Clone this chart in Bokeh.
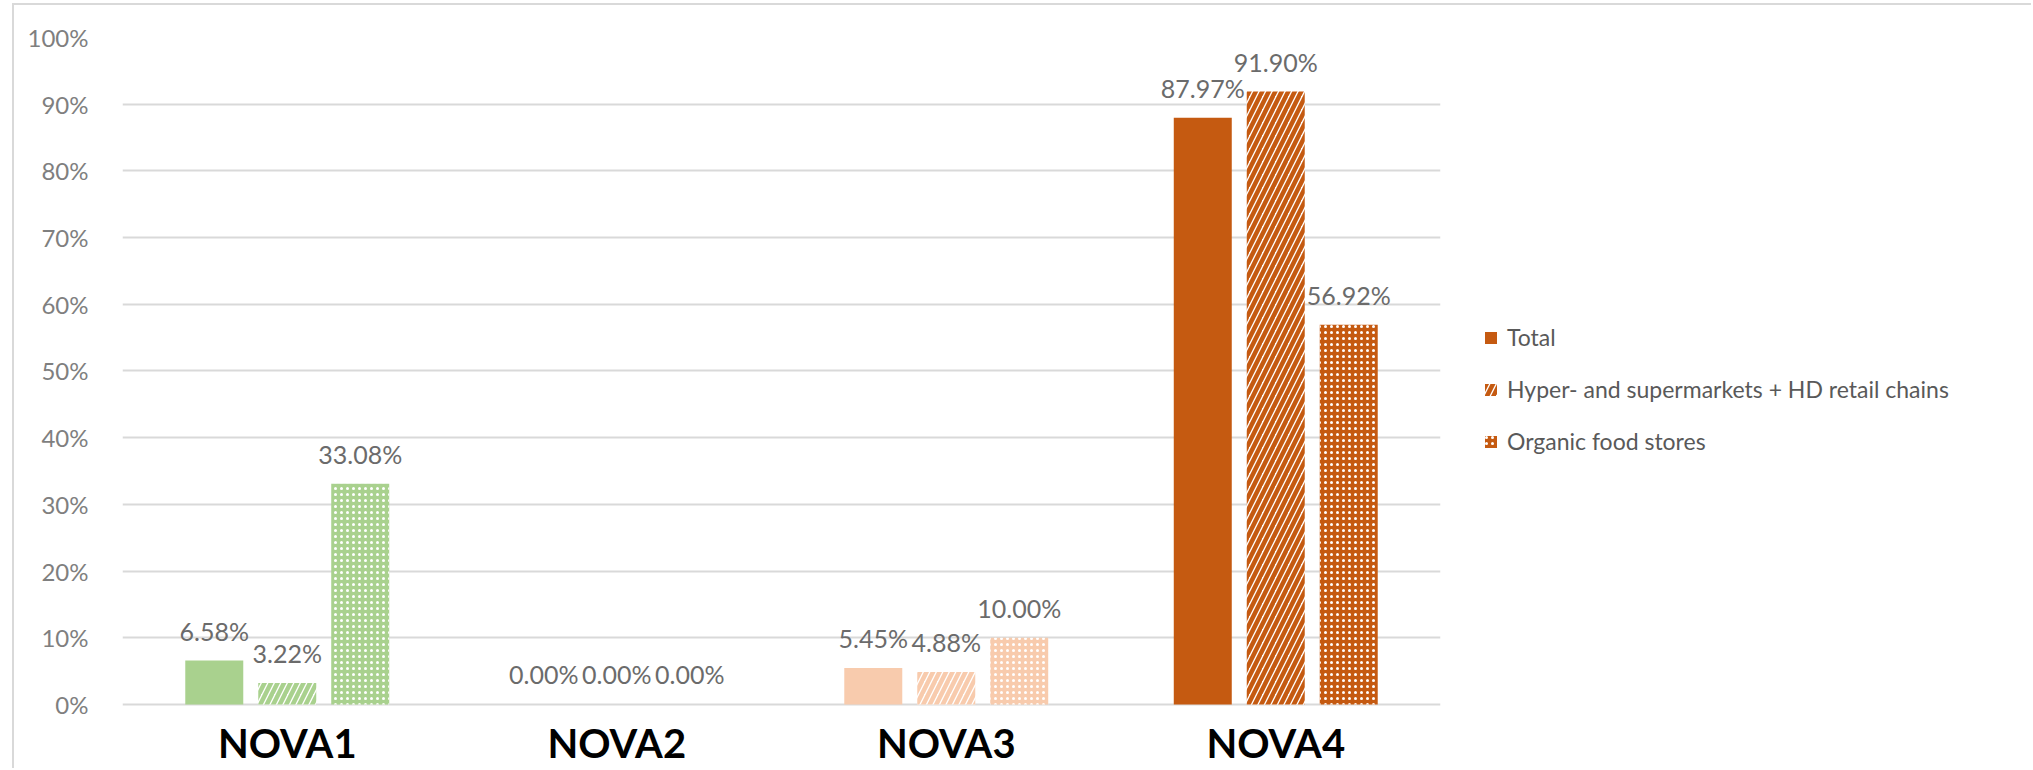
from bokeh.plotting import figure
from bokeh.layouts import row
from bokeh.models import (FactorRange, Range1d, ColumnDataSource, FixedTicker,
                          Legend, LegendItem)
from bokeh.transform import dodge
from bokeh.core.properties import value
from bokeh.embed import file_html
from bokeh.resources import INLINE

# ---- data ----
categories = ["NOVA1", "NOVA2", "NOVA3", "NOVA4"]
series_names = ["Total", "Hyper- and supermarkets + HD retail chains", "Organic food stores"]
total = [6.58, 0.00, 5.45, 87.97]
hyper = [3.22, 0.00, 4.88, 91.90]
organic = [33.08, 0.00, 10.00, 56.92]
category_colors = ["#a9d18e", "#a9d18e", "#f8cbad", "#c55a11"]
y_ticks = [0, 10, 20, 30, 40, 50, 60, 70, 80, 90, 100]
y_tick_labels = ["0%", "10%", "20%", "30%", "40%", "50%", "60%", "70%", "80%", "90%", "100%"]

series_values = [total, hyper, organic]

FONT = "Lato"
BORDER = "2px solid #d9d9d9"

pitch = 0.2215
bar_w = 0.176
offsets = [-pitch, 0.0, pitch]

sources = [ColumnDataSource(dict(cat=categories, val=vals, color=category_colors,
                                 lab=[f"{v:.2f}%" for v in vals]))
           for vals in series_values]


def add_bars(fig, i):
    src = sources[i]
    xs = dodge("cat", offsets[i], range=fig.x_range)
    if i == 0:
        r = fig.vbar(x=xs, top="val", width=bar_w, source=src,
                     fill_color="color", line_color=None)
    elif i == 1:
        r = fig.vbar(x=xs, top="val", width=bar_w, source=src,
                     fill_color="white", line_color=None,
                     hatch_pattern="/", hatch_color="color",
                     hatch_weight=4.5, hatch_scale=13)
    else:
        r = fig.vbar(x=xs, top="val", width=bar_w, source=src,
                     fill_color="color", line_color=None,
                     hatch_pattern=".", hatch_color="white",
                     hatch_weight=1, hatch_scale=6)
    return r, xs


# ---- main chart ----
p = figure(width=1446, height=765,
           x_range=FactorRange(factors=categories, range_padding=0),
           y_range=Range1d(-9.9, 100),
           output_backend="svg", toolbar_location=None,
           x_axis_location=None,
           min_border_left=108, min_border_right=20,
           min_border_top=32, min_border_bottom=0)
p.margin = (3, 0, 0, 12)
p.styles = {"border-top": BORDER, "border-left": BORDER}
p.outline_line_color = None
p.background_fill_color = "white"
p.border_fill_color = "white"

p.xgrid.visible = False
p.ygrid.ticker = FixedTicker(ticks=y_ticks)
p.ygrid.grid_line_color = "#d9d9d9"
p.ygrid.grid_line_width = 2

yax = p.yaxis[0]
yax.ticker = FixedTicker(ticks=y_ticks)
yax.major_label_overrides = {t: l for t, l in zip(y_ticks, y_tick_labels)}
yax.axis_line_color = None
yax.major_tick_line_color = None
yax.minor_tick_line_color = None
yax.major_label_standoff = 28
yax.major_label_text_font = FONT
yax.major_label_text_font_size = "24px"
yax.major_label_text_color = "#7f7f7f"

for i in range(3):
    r, xs = add_bars(p, i)
    p.text(x=xs, y="val", text="lab", source=sources[i],
           text_font=value(FONT), text_font_size="25px",
           text_color="#6b6b6b", text_align="center",
           text_baseline="alphabetic", y_offset=-30)

# category labels
cat_src = ColumnDataSource(dict(cat=categories))
p.text(x="cat", y=-5.8, text="cat", source=cat_src,
       text_font=value(FONT), text_font_size="40px", text_font_style="bold",
       text_color="black", text_align="center", text_baseline="alphabetic")

# ---- legend panel ----
pl = figure(width=573, height=765,
            x_range=FactorRange(factors=categories, range_padding=0),
            y_range=Range1d(1000, 1100),
            output_backend="svg", toolbar_location=None,
            x_axis_location=None, y_axis_location=None,
            min_border_left=0, min_border_right=0,
            min_border_top=0, min_border_bottom=0)
pl.margin = (3, 0, 0, 0)
pl.styles = {"border-top": BORDER}
pl.outline_line_color = None
pl.grid.visible = False
pl.background_fill_color = "white"
pl.border_fill_color = "white"

leg_renderers = [add_bars(pl, i)[0] for i in range(3)]

legend = Legend(items=[LegendItem(label=series_names[i], renderers=[leg_renderers[i]], index=3)
                       for i in range(3)],
                location=(25, 314), margin=0, padding=0,
                border_line_color=None, background_fill_alpha=0,
                glyph_width=15, glyph_height=15, label_standoff=9,
                spacing=22, label_height=30,
                label_text_font=FONT, label_text_font_size="23px",
                label_text_color="#595959")
pl.add_layout(legend)

layout = row(p, pl)
open("out.html", "w").write(file_html(layout, INLINE))
